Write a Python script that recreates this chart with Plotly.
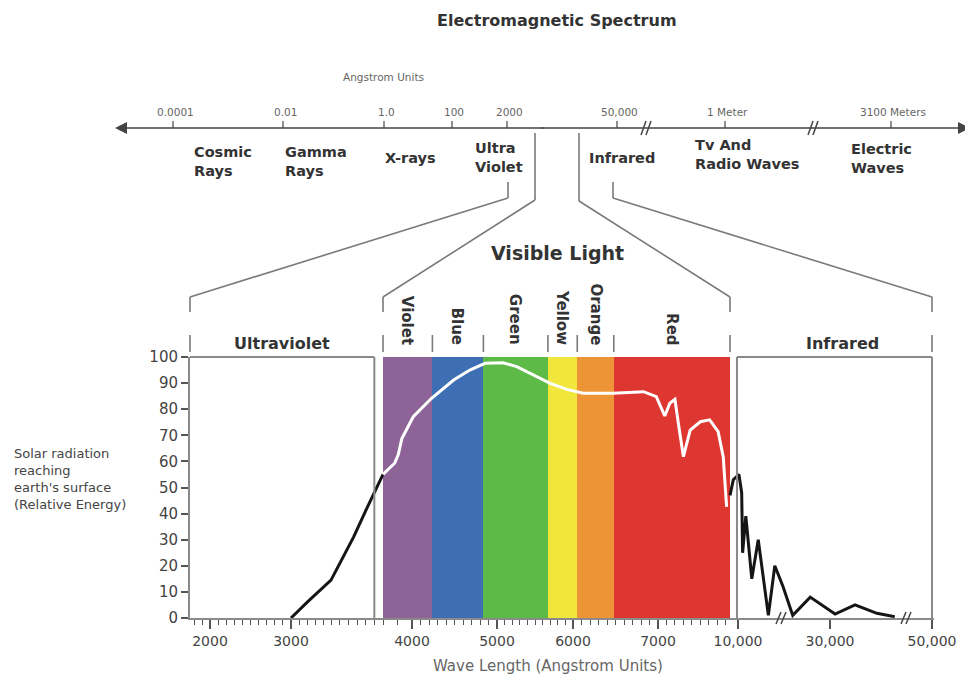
import numpy as np
import plotly.graph_objects as go

# ---------------- data ----------------
# Solar radiation reaching earth's surface (relative energy) vs wavelength (Angstrom)
uv_wavelength = [3000, 3200, 3500, 3630, 3710, 3770, 3800]
uv_energy = [0, 6, 14.5, 31, 42.5, 51, 55]

visible_wavelength = [3800, 3880, 3905, 3930, 4015, 4230, 4490, 4680, 4860, 5080,
                      5260, 5480, 5700, 5920, 6120, 6470, 6830, 6980, 7080, 7140,
                      7200, 7240, 7300, 7380, 7500, 7610, 7710, 7770, 7810]
visible_energy = [55, 59.3, 62.5, 68.8, 77.1, 84.2, 91.2, 95, 97.6, 97.8,
                  96.3, 93.1, 89.9, 87.6, 86.1, 86.1, 86.7, 84.8, 77.4, 82.3,
                  83.8, 74.6, 61.8, 72, 75.2, 75.9, 71.4, 61.8, 42.6]

ir_wavelength = [7850, 8740, 10200, 10800, 11000, 11700, 13000, 14400, 16600,
                 18000, 19800, 21900, 25700, 31000, 34900, 39200, 42700]
ir_energy = [47, 53, 55, 48, 25, 39, 15, 30, 1, 20, 12, 1, 8, 1.5, 5, 1.8, 0.5]

band_names = ["Violet", "Blue", "Green", "Yellow", "Orange", "Red"]
band_start = [3800, 4240, 4840, 5670, 6050, 6480]
band_end = [4240, 4840, 5670, 6050, 6480, 7850]
band_colors = ["#8e6498", "#3e6eb4", "#5dba47", "#f1e73c", "#ec9436", "#de3630"]

panel_uv = (1750, 3750)
panel_visible = (3800, 7850)
panel_ir = (9730, 50000)

x_tick_wl = [2000, 2500, 3000, 3500, 4000, 4500, 5000, 5500, 6000, 6500, 7000, 7500,
             10000, 30000, 50000]
x_tick_text = ["2000", "", "3000", "", "4000", "", "5000", "", "6000", "", "7000", "",
               "10,000", "30,000", "50,000"]
y_ticks = list(range(0, 101, 10))

# electromagnetic spectrum (schematic top axis)
em_tick_labels = ["0.0001", "0.01", "1.0", "100", "2000", "50,000", "1 Meter", "3100 Meters"]
em_band_labels = ["Cosmic<br>Rays", "Gamma<br>Rays", "X-rays", "Ultra<br>Violet",
                  "Infrared", "Tv And<br>Radio Waves", "Electric<br>Waves"]

# ---------------- scale (piecewise, schematic horizontal axis) ----------------
SCALE_WL = [1750, 2000, 3000, 3500, 3800, 4000, 5000, 6000, 7000, 7850, 10000, 30000, 50000]
SCALE_POS = [190, 210, 291, 331, 383, 412, 497, 573, 658, 730, 738, 830, 932]


def to_px(wl):
    return np.interp(np.asarray(wl, dtype=float), SCALE_WL, SCALE_POS)


# page places the figure 8px from the top-left corner
OFF = 8
W, H = 973 - OFF, 679 - OFF
X0, X1 = 190, 934      # plot area (page pixels)
Y0, Y1 = 618, 357      # y=0 and y=100 (page pixels)


def pxx(v):
    return (v - X0) / (X1 - X0)


def pxy(v):
    return (Y0 - v) / (Y0 - Y1)


FONT = "DejaVu Sans"
GRAY = "#7a7a7a"
TXT = "#333333"

fig = go.Figure()

# colour bands
bs = to_px(band_start)
be = to_px(band_end)
fig.add_trace(go.Bar(x=(bs + be) / 2, y=[100] * len(band_names), width=be - bs,
                     marker=dict(color=band_colors, line=dict(width=0)),
                     hoverinfo="skip", showlegend=False))

fig.add_trace(go.Scatter(x=to_px(uv_wavelength), y=uv_energy, mode="lines",
                         line=dict(color="#151515", width=3), showlegend=False))
fig.add_trace(go.Scatter(x=to_px(visible_wavelength), y=visible_energy, mode="lines",
                         line=dict(color="white", width=3), showlegend=False))
fig.add_trace(go.Scatter(x=to_px(ir_wavelength), y=ir_energy, mode="lines",
                         line=dict(color="#151515", width=3), showlegend=False))

shapes = []
ann = []


def line(x0, y0, x1, y1, color=GRAY, width=1.6):
    shapes.append(dict(type="line", xref="paper", yref="paper", x0=pxx(x0), y0=pxy(y0),
                       x1=pxx(x1), y1=pxy(y1), line=dict(color=color, width=width)))


def text(x, y, s, size, color=TXT, xanchor="center", yanchor="middle", align="center",
         angle=0):
    ann.append(dict(xref="paper", yref="paper", x=pxx(x), y=pxy(y), text=s, showarrow=False,
                    font=dict(family=FONT, size=size, color=color), xanchor=xanchor,
                    yanchor=yanchor, align=align, textangle=angle))


uv_l, uv_r = to_px(panel_uv)
ir_l, ir_r = to_px(panel_ir)
vis_l, vis_r = to_px(panel_visible)

# panel boxes
line(uv_l, Y1, uv_r, Y1, color="#8a8a8a", width=2)
line(uv_r, Y1, uv_r, Y0, color="#8a8a8a", width=2)
line(ir_l, Y1, ir_r, Y1, color="#8a8a8a", width=2)
line(ir_l, Y1, ir_l, Y0, color="#8a8a8a", width=2)
line(ir_r, Y1, ir_r, Y0, color="#8a8a8a", width=2)

# header brackets
edges = [uv_l] + list(bs) + [be[-1], ir_r]
for e in edges:
    line(e, 335, e, 352)
for e in [uv_l, vis_l, vis_r, ir_r]:
    line(e, 297, e, 312)

# connectors to top spectrum
line(uv_l, 297, 508, 198); line(508, 198, 508, 182)
line(vis_l, 297, 535, 200); line(535, 200, 535, 133)
line(vis_r, 297, 579, 201); line(579, 201, 579, 133)
line(ir_r, 297, 613, 198); line(613, 198, 613, 182)

# band labels (rotated)
for name, c in zip(band_names, (bs + be) / 2):
    text(c, 347, "<b>%s</b>" % name, 15, yanchor="bottom", angle=90)

text((uv_l + uv_r) / 2, 343, "<b>Ultraviolet</b>", 16)
text((ir_l + ir_r) / 2 + 8, 343, "<b>Infrared</b>", 16)
text(557, 253, "<b>Visible Light</b>", 19)
text(557, 20, "<b>Electromagnetic Spectrum</b>", 16)

# top spectrum axis with arrows
AX_Y = 128
ann.append(dict(xref="paper", yref="paper", x=pxx(115), y=pxy(AX_Y), ax=430, ay=0,
                axref="pixel", ayref="pixel", text="", showarrow=True, arrowhead=2,
                arrowsize=1.5, arrowwidth=1.6, arrowcolor="#444"))
ann.append(dict(xref="paper", yref="paper", x=pxx(970), y=pxy(AX_Y), ax=-430, ay=0,
                axref="pixel", ayref="pixel", text="", showarrow=True, arrowhead=2,
                arrowsize=1.5, arrowwidth=1.6, arrowcolor="#444"))
em_tick_pos = [173, 283, 384, 452, 507, 617, 725, 891]
for lab, p in zip(em_tick_labels, em_tick_pos):
    line(p, AX_Y, p, 121, color="#555", width=1.3)
    text(p + 2, 112, lab, 10.5, color="#666")
text(383, 77, "Angstrom Units", 10.5, color="#666")
for b in [645, 812]:
    line(b - 4, 135, b + 1, 121, color="#444", width=1.5)
    line(b + 1, 135, b + 6, 121, color="#444", width=1.5)

em_band_left = [192, 283, 383, 473, 587, 693, 849]
em_band_y = [161, 161, 158, 157, 158, 154, 158]
for lab, xl, yc in zip(em_band_labels, em_band_left, em_band_y):
    text(xl, yc, "<b>%s</b>" % lab, 14.5, xanchor="left", align="left")

# bottom axis breaks
for b in [781, 906]:
    line(b - 5, 624, b, 612, color="#444", width=1.5)
    line(b, 624, b + 5, 612, color="#444", width=1.5)

# axis titles
text(12, 479, "Solar radiation<br>reaching<br>earth's surface<br>(Relative Energy)", 13,
     color="#444", xanchor="left", align="left")
text(548, 666, "Wave Length (Angstrom Units)", 15, color="#666")

# minor ticks
minor_wl = list(range(1800, 3500, 100)) + list(range(3500, 3800, 50)) + list(range(3800, 7900, 100))

fig.update_layout(
    width=W, height=H,
    margin=dict(l=X0 - OFF, r=W - (X1 - OFF), t=Y1 - OFF, b=H - (Y0 - OFF), pad=0,
                autoexpand=False),
    plot_bgcolor="white", paper_bgcolor="white", showlegend=False,
    font=dict(family=FONT, color=TXT),
    bargap=0,
    shapes=shapes, annotations=ann,
    xaxis=dict(range=[X0, X1], showgrid=False, zeroline=False, showline=True,
               linecolor="#8a8a8a", linewidth=2, ticks="outside", ticklen=9, tickwidth=1.5,
               tickcolor="#555", tickmode="array", tickvals=list(to_px(x_tick_wl)),
               ticktext=x_tick_text, tickfont=dict(family=FONT, size=14, color="#444"),
               minor=dict(tickmode="array", tickvals=list(to_px(minor_wl)), ticks="outside",
                          ticklen=5, tickwidth=1.2, tickcolor="#555", showgrid=False),
               fixedrange=True),
    yaxis=dict(range=[0, 100], showgrid=False, zeroline=False, showline=True,
               linecolor="#8a8a8a", linewidth=2, ticks="outside", ticklen=7, tickwidth=1.5,
               tickcolor="#555", tickmode="array", tickvals=y_ticks,
               tickfont=dict(family=FONT, size=15, color="#444"), fixedrange=True),
)

fig.write_html("out.html")
